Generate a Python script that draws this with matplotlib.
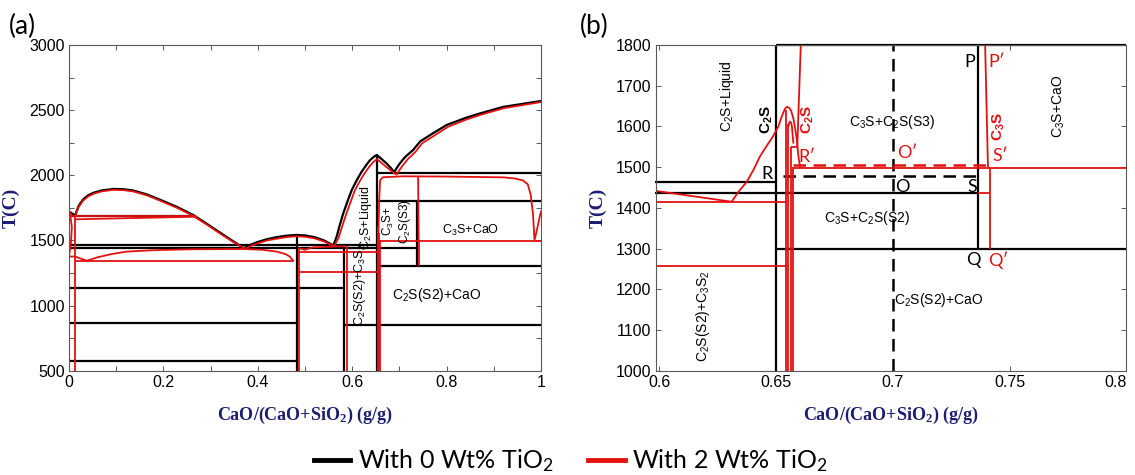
import numpy as np
import matplotlib.pyplot as plt
from matplotlib.lines import Line2D
from matplotlib.transforms import ScaledTranslation

plt.rcParams['font.family'] = ['Liberation Sans', 'DejaVu Sans']
plt.rcParams['mathtext.default'] = 'regular'

RED = '#e41010'

# ---------------- (a) whole CaO-SiO2 section ----------------
# liquidus, 0 wt% TiO2
liq0_x = [0.0, 0.013, 0.02, 0.03, 0.04, 0.052, 0.07, 0.094, 0.115, 0.136, 0.165, 0.193,
          0.23, 0.263, 0.29, 0.32, 0.345, 0.371,
          0.385, 0.40, 0.42, 0.44, 0.46, 0.482, 0.50, 0.52, 0.54, 0.56,
          0.563, 0.567, 0.573, 0.581, 0.59, 0.599, 0.61, 0.62, 0.63, 0.638, 0.645, 0.652,
          0.662, 0.673, 0.682, 0.689,
          0.695, 0.701, 0.712, 0.729, 0.744, 0.77, 0.80, 0.84, 0.871, 0.92, 1.0]
liq0_t = [1721, 1692, 1762, 1815, 1845, 1866, 1884, 1895, 1893, 1883, 1853, 1812,
          1755, 1695, 1632, 1560, 1500, 1440,
          1467, 1488, 1510, 1525, 1536, 1542, 1538, 1525, 1500, 1462,
          1490, 1529, 1610, 1708, 1800, 1887, 1965, 2028, 2080, 2117, 2140, 2156,
          2125, 2090, 2055, 2025,
          2060, 2092, 2140, 2194, 2260, 2320, 2386, 2440, 2475, 2525, 2570]
# liquidus, 2 wt% TiO2
liq2_x = [0.013, 0.02, 0.03, 0.04, 0.052, 0.07, 0.094, 0.115, 0.136, 0.165, 0.193,
          0.23, 0.263, 0.29, 0.32, 0.345, 0.373,
          0.387, 0.40, 0.42, 0.44, 0.46, 0.482, 0.50, 0.52, 0.54, 0.562,
          0.566, 0.571, 0.578, 0.587, 0.596, 0.605, 0.616, 0.626, 0.636, 0.643, 0.649, 0.653,
          0.662, 0.672, 0.684, 0.694,
          0.700, 0.708, 0.718, 0.734, 0.748, 0.774, 0.803, 0.842, 0.873, 0.921, 1.0]
liq2_t = [1688, 1755, 1806, 1836, 1858, 1877, 1888, 1886, 1876, 1846, 1805,
          1748, 1688, 1626, 1553, 1494, 1436,
          1460, 1478, 1500, 1513, 1525, 1532, 1528, 1516, 1492, 1455,
          1485, 1520, 1600, 1700, 1790, 1880, 1955, 2015, 2065, 2095, 2115, 2122,
          2095, 2065, 2030, 2005,
          2040, 2080, 2125, 2180, 2245, 2305, 2372, 2428, 2465, 2515, 2562]
# two-liquid / solid region boundaries, 2 wt% TiO2
edge2_x = [0.002, 0.006, 0.004, 0.0]
edge2_t = [1715, 1600, 1480, 1378]
mono2_x = [0.013, 0.27]
mono2_t = [1662, 1682]
low2_x = [0.0, 0.013, 0.025, 0.0375, 0.06, 0.09, 0.122, 0.18, 0.263, 0.369, 0.41, 0.44, 0.458, 0.468, 0.475]
low2_t = [1376, 1376, 1360, 1344, 1370, 1395, 1414, 1425, 1432, 1434, 1428, 1414, 1396, 1375, 1344]
wol2_x = [0.488, 0.50, 0.515, 0.54, 0.583]
wol2_t = [1440, 1428, 1446, 1450, 1455]
cao2_x = [0.655, 0.657, 0.659, 0.665, 0.708, 0.80, 0.92, 0.945, 0.962, 0.972, 0.978, 0.983, 0.986, 0.99, 0.998, 1.0]
cao2_t = [1478, 1800, 1960, 1985, 1992, 1990, 1984, 1975, 1960, 1930, 1850, 1700, 1503, 1560, 1695, 1720]
c3s2_x = [0.7407, 0.7395]
c3s2_t = [1498, 1985]

# invariant lines: temperature, from, to
hl0_t = [1690, 1465, 1440, 1133, 866, 573, 2020, 1803, 1300, 851]
hl0_x0 = [0.0, 0.0, 0.0, 0.0, 0.0, 0.0, 0.652, 0.652, 0.652, 0.583]
hl0_x1 = [0.27, 0.652, 0.737, 0.583, 0.483, 0.483, 1.0, 1.0, 1.0, 1.0]
vl0_x = [0.483, 0.583, 0.652, 0.737]
vl0_t0 = [500, 500, 500, 1300]
vl0_t1 = [1542, 1465, 2156, 1803]

hl2_t = [1684, 1344, 1414, 1260, 1498]
hl2_x0 = [0.0, 0.013, 0.488, 0.488, 0.657]
hl2_x1 = [0.27, 0.475, 0.657, 0.657, 1.0]
vl2_x = [0.013, 0.488, 0.588, 0.655, 0.657, 0.659, 0.742]
vl2_t0 = [500, 500, 500, 500, 500, 500, 1300]
vl2_t1 = [1690, 1440, 1455, 1600, 1560, 1500, 1498]

# ---------------- (b) enlarged C2S / C3S region ----------------
hb0_t = [1464, 1437, 1300, 1800]
hb0_x0 = [0.598, 0.598, 0.650, 0.650]
hb0_x1 = [0.650, 0.7364, 0.8, 0.8]
vb0_x = [0.650, 0.7364]
vb0_t0 = [1000, 1300]
vb0_t1 = [1800, 1800]
path_ro_x = [0.653, 0.7374]      # R -> S, 0 wt%
path_ro_t = [1479, 1479]
comp_x = 0.70                     # bulk composition line

liqb_x = [0.598, 0.631, 0.634, 0.6375, 0.6405, 0.6431, 0.646, 0.6489, 0.651, 0.6525, 0.6538,
          0.6546, 0.6556, 0.6565, 0.6574, 0.6582, 0.6589, 0.6596, 0.6603]
liqb_t = [1442, 1415, 1440, 1464, 1495, 1526, 1552, 1577, 1600, 1625, 1643,
          1648, 1646, 1638, 1620, 1595, 1567, 1526, 1501]
c2sb_x = [0.6606, 0.6591]
c2sb_t = [1800, 1550]
arcb_x = [0.6553, 0.6557, 0.6560, 0.6565, 0.6568, 0.6574]
arcb_t = [1600, 1609, 1612, 1608, 1600, 1560]
hb2_t = [1415, 1257, 1550, 1498, 1437]
hb2_x0 = [0.598, 0.598, 0.6564, 0.6574, 0.7364]
hb2_x1 = [0.6546, 0.6553, 0.6595, 0.8, 0.7417]
vb2_x = [0.6543, 0.6553, 0.6564, 0.6574, 0.7417]
vb2_t0 = [1000, 1000, 1000, 1000, 1300]
vb2_t1 = [1640, 1605, 1550, 1500, 1498]
c3sb_x = [0.7395, 0.7407]
c3sb_t = [1800, 1502]
path_r2_x = [0.6574, 0.7403]     # R' -> S', 2 wt%
path_r2_t = [1505, 1505]

fig = plt.figure(figsize=(11.35, 4.75), dpi=100)
ax_a = fig.add_axes([0.0608, 0.2196, 0.4159, 0.6857])
ax_b = fig.add_axes([0.5777, 0.2196, 0.4148, 0.6857])

LW0, LW2 = 1.6, 1.3

# (a)
ax_a.hlines(hl0_t, hl0_x0, hl0_x1, colors='black', lw=LW0)
ax_a.vlines(vl0_x, vl0_t0, vl0_t1, colors='black', lw=LW0)
ax_a.plot(liq0_x, liq0_t, color='black', lw=LW0)
ax_a.hlines(hl2_t, hl2_x0, hl2_x1, colors=RED, lw=LW2)
ax_a.vlines(vl2_x, vl2_t0, vl2_t1, colors=RED, lw=LW2)
for xs, ts in [(liq2_x, liq2_t), (edge2_x, edge2_t), (mono2_x, mono2_t),
               (low2_x, low2_t), (wol2_x, wol2_t), (cao2_x, cao2_t), (c3s2_x, c3s2_t)]:
    ax_a.plot(xs, ts, color=RED, lw=LW2)

ax_a.text(0.629, 1672, 'C$_2$S+Liquid', rotation=90, ha='center', va='center', fontsize=9)
ax_a.text(0.694, 1644, 'C$_3$S+\nC$_2$S(S3)', rotation=90, ha='center', va='center',
          fontsize=8.5, linespacing=1.1)
ax_a.text(0.85, 1580, 'C$_3$S+CaO', ha='center', va='center', fontsize=9)
ax_a.text(0.779, 1081, 'C$_2$S(S2)+CaO', ha='center', va='center', fontsize=10)
ax_a.text(0.6165, 1160, 'C$_2$S(S2)+C$_3$S$_2$', rotation=90, ha='center', va='center', fontsize=9)

ax_a.set_xlim(0, 1)
ax_a.set_ylim(500, 3000)
ax_a.set_xticks(np.arange(0, 1.01, 0.1))
ax_a.set_xticklabels(['0', '', '0.2', '', '0.4', '', '0.6', '', '0.8', '', '1'])
ax_a.set_yticks(np.arange(500, 3001, 250))
ax_a.set_yticklabels([str(v) if v % 500 == 0 else '' for v in range(500, 3001, 250)])

# (b)
ax_b.hlines(hb0_t, hb0_x0, hb0_x1, colors='black', lw=LW0, clip_on=False)
ax_b.vlines(vb0_x, vb0_t0, vb0_t1, colors='black', lw=LW0)
ax_b.plot(path_ro_x, path_ro_t, color='black', lw=1.8, ls=(0, (5, 3)))
ax_b.axvline(comp_x, color='black', lw=1.8, ls=(0, (5, 3)))
ax_b.hlines(hb2_t, hb2_x0, hb2_x1, colors=RED, lw=LW2)
ax_b.vlines(vb2_x, vb2_t0, vb2_t1, colors=RED, lw=LW2)
for xs, ts in [(liqb_x, liqb_t), (c2sb_x, c2sb_t), (arcb_x, arcb_t), (c3sb_x, c3sb_t)]:
    ax_b.plot(xs, ts, color=RED, lw=LW2)
ax_b.plot(path_r2_x, path_r2_t, color=RED, lw=1.8, ls=(0, (5, 3)))

ax_b.text(0.6289, 1673, 'C$_2$S+Liquid', rotation=90, ha='center', va='center', fontsize=10)
ax_b.text(0.646, 1616, 'C$_2$S', rotation=90, ha='center', va='center', fontsize=11, fontweight='bold')
ax_b.text(0.6638, 1616, 'C$_2$S', rotation=90, ha='center', va='center', fontsize=11,
          fontweight='bold', color=RED)
ax_b.text(0.7453, 1600, 'C$_3$S', rotation=90, ha='center', va='center', fontsize=11,
          fontweight='bold', color=RED)
ax_b.text(0.6998, 1612, 'C$_3$S+C$_2$S(S3)', ha='center', va='center', fontsize=10)
ax_b.text(0.689, 1375, 'C$_3$S+C$_2$S(S2)', ha='center', va='center', fontsize=10)
ax_b.text(0.7005, 1174, 'C$_2$S(S2)+CaO', ha='left', va='center', fontsize=10)
ax_b.text(0.7709, 1648, 'C$_3$S+CaO', rotation=90, ha='center', va='center', fontsize=10)
ax_b.text(0.6189, 1133, 'C$_2$S(S2)+C$_3$S$_2$', rotation=90, ha='center', va='center', fontsize=10)

pts = [('R', 0.6463, 1483, 'black'), ("R\u2032", 0.6632, 1526, RED),
       ('O', 0.7039, 1452, 'black'), ("O\u2032", 0.706, 1534, RED),
       ('S', 0.7339, 1452, 'black'), ("S\u2032", 0.746, 1527, RED),
       ('P', 0.7331, 1759, 'black'), ("P\u2032", 0.7446, 1759, RED),
       ('Q', 0.7345, 1272, 'black'), ("Q\u2032", 0.7452, 1272, RED)]
for s, x, t, c in pts:
    ax_b.text(x, t, s, ha='center', va='center', fontsize=13, color=c,
              family=['Lato', 'DejaVu Sans'])

ax_b.set_xlim(0.5985, 0.8)
ax_b.set_ylim(1000, 1800)
ax_b.set_xticks([0.6, 0.65, 0.7, 0.75, 0.8])
ax_b.set_xticklabels(['0.6', '0.65', '0.7', '0.75', '0.8'])
ax_b.set_yticks(np.arange(1000, 1801, 100))

for ax in (ax_a, ax_b):
    for sp in ax.spines.values():
        sp.set_color('0.35')
        sp.set_linewidth(0.8)
    ax.tick_params(direction='in', top=True, right=True, length=3.5, width=0.7,
                   color='0.35', labelsize=11.5, pad=3)
    ax.set_xlabel('CaO/(CaO+SiO$_2$) (g/g)', family='Liberation Serif', fontweight='bold',
                  fontsize=13, color='#1c1c72')
    ax.set_ylabel('T(C)', family='Liberation Serif', fontweight='bold', fontsize=14,
                  color='#1c1c72')
    ax.xaxis.set_label_coords(0.5, -0.105)
    ax.yaxis.set_label_coords(-0.104, 0.5)

# keep the last tick label of (b) inside the figure edge
last = ax_b.get_xticklabels()[-1]
last.set_transform(last.get_transform() + ScaledTranslation(-8 / 72, 0, fig.dpi_scale_trans))

fig.text(0.008, 0.945, '(a)', fontsize=19, family=['Lato', 'DejaVu Sans'], va='center')
fig.text(0.511, 0.945, '(b)', fontsize=19, family=['Lato', 'DejaVu Sans'], va='center')

handles = [Line2D([], [], color='black', lw=3.5), Line2D([], [], color=RED, lw=3.5)]
fig.legend(handles, ['With 0 Wt% TiO$_2$', 'With 2 Wt% TiO$_2$'], loc='center',
           bbox_to_anchor=(0.503, 0.03), ncol=2, frameon=False,
           prop={'family': 'Lato', 'size': 18}, handlelength=1.45,
           handletextpad=0.3, columnspacing=1.4)

fig.savefig('out.png', dpi=100)
